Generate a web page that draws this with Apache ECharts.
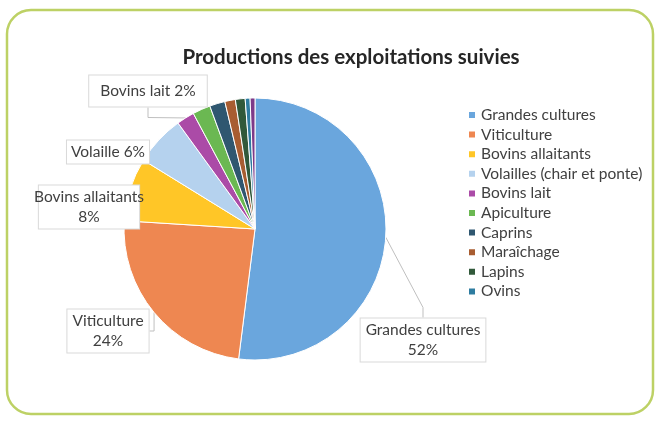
<!DOCTYPE html>
<html>
<head>
<meta charset="utf-8">
<script src="https://cdn.jsdelivr.net/npm/echarts@6/dist/echarts.min.js"></script>
<style>
  html, body { margin: 0; padding: 0; background: #fff; }
  #chart { width: 659px; height: 423px; }
</style>
</head>
<body>
<div id="chart"></div>
<script>
  // catégories (la dernière tranche n'apparaît pas dans la légende)
  var categories = ['Grandes cultures', 'Viticulture', 'Bovins allaitants', 'Volailles (chair et ponte)',
    'Bovins lait', 'Apiculture', 'Caprins', 'Maraîchage', 'Lapins', 'Ovins', 'Autres'];
  // parts en %
  var values = [52.0, 24.0, 7.8, 6.2, 2.2, 2.2, 1.9, 1.3, 1.2, 0.6, 0.6];
  // textes des étiquettes ('' = pas d'étiquette)
  var labelNames = ['Grandes cultures', 'Viticulture', 'Bovins allaitants', 'Volaille', 'Bovins lait',
    '', '', '', '', '', ''];
  var legendNames = categories.slice(0, 10);

  var colors = ['#6aa6dd', '#ee8751', '#ffc627', '#b5d2ee', '#ab4ba7', '#6bb852',
    '#2f5770', '#a85d31', '#31593a', '#2e7ca0', '#7d3a89'];
  // position des étiquettes (centre), une ou deux lignes, marge intérieure
  var labelPos = {
    0: {x: 423, y: 340, twoLines: true, pad: [2, 5, 1, 5]},
    1: {x: 108, y: 331, twoLines: true, pad: [2, 5, 1, 5]},
    2: {x: 89, y: 207, twoLines: true, pad: [2, 5, 1, 5]},
    3: {x: 108, y: 152, twoLines: false, pad: [2, 4, 1, 4]},
    4: {x: 148, y: 91, twoLines: false, pad: [6, 11, 5, 11]}
  };

  var myChart = echarts.init(document.getElementById('chart'));
  var pieData = [];
  categories.forEach(function (name, i) {
    var item = {name: name, value: values[i], itemStyle: {color: colors[i]}};
    if (!labelNames[i]) {
      item.label = {show: false};
      item.labelLine = {show: false};
    } else {
      item.label = {padding: labelPos[i].pad};
    }
    pieData.push(item);
  });

  var option = {
    textStyle: {fontFamily: 'Lato'},
    title: {
      text: 'Productions des exploitations suivies',
      left: 346,
      top: 42,
      textAlign: 'center',
      textStyle: {fontFamily: 'Lato', fontSize: 20.5, fontWeight: 'bold', color: '#262626'}
    },
    // cadre arrondi vert
    graphic: [{
      type: 'rect',
      shape: {x: 7, y: 10, width: 646, height: 404, r: 24},
      style: {fill: 'none', stroke: '#bdd165', lineWidth: 2.5},
      silent: true
    }],
    legend: {
      data: legendNames,
      orient: 'vertical',
      left: 467,
      top: 107,
      padding: 0,
      itemWidth: 8,
      itemHeight: 8,
      itemGap: 3.6,
      icon: 'rect',
      textStyle: {fontFamily: 'Lato', fontSize: 15.5, color: '#404040'}
    },
    series: [{
      type: 'pie',
      center: [255, 229],
      radius: 131,
      startAngle: 90,
      clockwise: true,
      percentPrecision: 0,
      itemStyle: {borderColor: '#fff', borderWidth: 1},
      label: {
        show: true,
        position: 'outside',
        formatter: function (p) {
          var txt = labelNames[p.dataIndex];
          var pos = labelPos[p.dataIndex];
          return pos && pos.twoLines ? txt + '\n' + p.percent + '%' : txt + ' ' + p.percent + '%';
        },
        overflow: 'none',
        fontFamily: 'Lato',
        fontSize: 15.5,
        lineHeight: 20,
        color: '#404040',
        backgroundColor: '#fff',
        borderColor: '#d9d9d9',
        borderWidth: 1,
        align: 'center'
      },
      labelLine: {
        show: true,
        length: 10,
        length2: 10,
        lineStyle: {color: '#bfbfbf', width: 1}
      },
      labelLayout: function (params) {
        var pos = labelPos[params.dataIndex];
        if (!pos) return {};
        return {x: pos.x, y: pos.y, align: 'center', verticalAlign: 'middle'};
      },
      data: pieData
    }]
  };
  myChart.setOption(option, true);
</script>
</body>
</html>
